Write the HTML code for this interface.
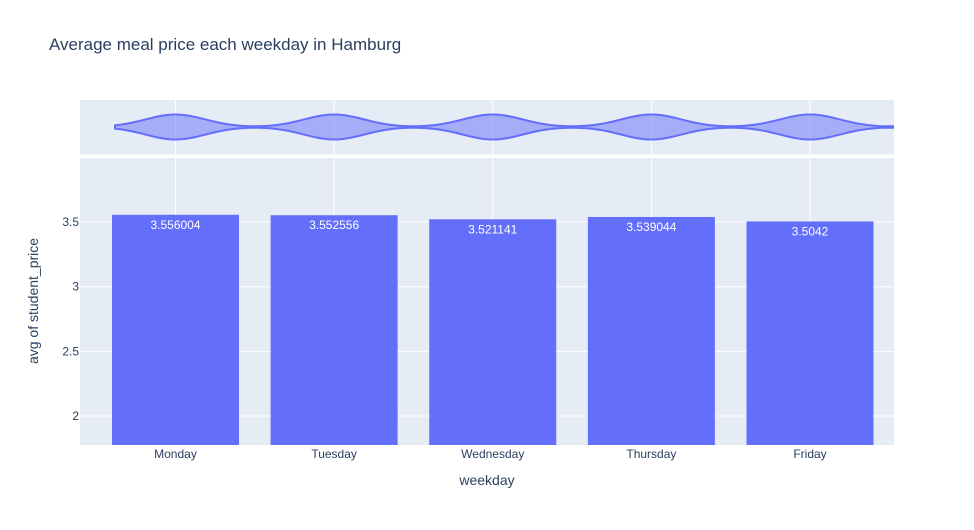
<!DOCTYPE html>
<html><head><meta charset="utf-8"><style>
body{margin:0;background:#fff;font-family:"Liberation Sans",sans-serif;}
svg text{font-family:"Liberation Sans",sans-serif;}
</style></head><body>
<svg id="c" width="974" height="525">
<text x="49" y="50" font-size="17" fill="#2a3f5f">Average meal price each weekday in Hamburg</text>
<rect x="80" y="100" width="814" height="54.5" fill="#e5ecf6"/>
<rect x="80" y="158" width="814" height="287" fill="#e5ecf6"/>
<g id="grid"></g><g id="bars"></g><g id="violin"></g><g id="ticks"></g>
<text x="487" y="485" font-size="14" fill="#2a3f5f" text-anchor="middle">weekday</text>
<text transform="translate(38,301) rotate(-90)" font-size="14" fill="#2a3f5f" text-anchor="middle">avg of student_price</text>
</svg>
<script>
const categories=["Monday","Tuesday","Wednesday","Thursday","Friday"];
const values=[3.556004,3.552556,3.521141,3.539044,3.5042];
const labels=["3.556004","3.552556","3.521141","3.539044","3.5042"];
const yTicks=[2,2.5,3,3.5];
const yTickLabels=["2","2.5","3","3.5"];
const ns="http://www.w3.org/2000/svg";
const x0=80,x1=894,yTop=158,yBot=445,yMin=1.776,yMax=3.995;
const step=158.625;
const xC=i=>175.5+step*i;
const y=v=>yBot-(v-yMin)/(yMax-yMin)*(yBot-yTop);
function mk(t,a,p){const e=document.createElementNS(ns,t);for(const k in a)e.setAttribute(k,a[k]);document.getElementById(p).appendChild(e);return e;}
yTicks.forEach((t,i)=>{
 const l=mk('line',{x1:x0,x2:x1,y1:y(t),y2:y(t),stroke:'#fff','stroke-width':1},'grid');
 
 
 const tx=mk('text',{x:79,y:y(t)+4,'font-size':12,fill:'#2a3f5f','text-anchor':'end'},'ticks');
 tx.textContent=yTickLabels[i];
 
 
});
categories.forEach((c,i)=>{
 const g1=mk('line',{x1:xC(i),x2:xC(i),y1:yTop,y2:yBot,stroke:'#fff','stroke-width':1},'grid');
 
 
 const g2=mk('line',{x1:xC(i),x2:xC(i),y1:100,y2:154.5,stroke:'#fff','stroke-width':1},'grid');
 
 
 const bw=127;
 const b=mk('rect',{x:xC(i)-bw/2,y:y(values[i]),width:bw,height:yBot-y(values[i]),fill:'#636efa'},'bars');
 
 
 const lb=mk('text',{x:xC(i),y:y(values[i])+14,'font-size':12,fill:'#fff','text-anchor':'middle'},'bars');
 lb.textContent=labels[i];
 
 
 const tx=mk('text',{x:xC(i),y:458,'font-size':12,fill:'#2a3f5f','text-anchor':'middle'},'ticks');
 tx.textContent=c;
 
 
});
const cy=127,sig=30,amp=12.5;
const dens=x=>{let s=0;categories.forEach((c,i)=>{s+=Math.exp(-((x-xC(i))**2)/(2*sig*sig));});return Math.max(s*amp,0.8);};
let upperPts=[],lowerPts=[];
for(let x=115;x<=x1;x+=2){upperPts.push(x+','+(cy-dens(x)).toFixed(2));lowerPts.unshift(x+','+(cy+dens(x)).toFixed(2));}
const v=mk('path',{d:'M'+upperPts.join(' L')+' L'+lowerPts.join(' L')+' Z',fill:'rgba(99,110,250,0.5)',stroke:'#636efa','stroke-width':2},'violin');


</script>
</body></html>
